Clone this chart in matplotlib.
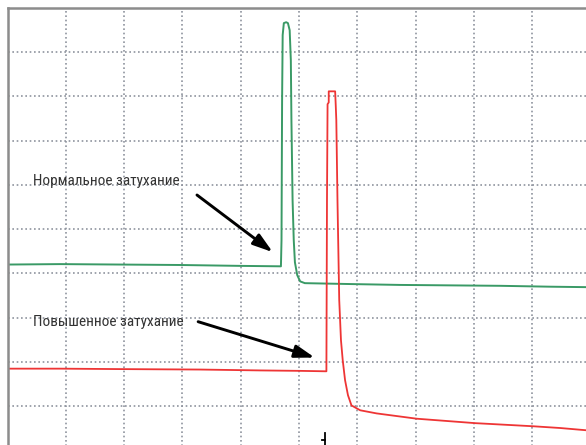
#!/usr/bin/env python
# Reflectogram-style trace: normal vs increased attenuation, scope grid 10x10.
import matplotlib
matplotlib.use("Agg")
import matplotlib.pyplot as plt

GREEN = "#3a9a66"; RED = "#ee3535"; GRID = "#8f949e"; FRAME = "#8c8c8c"; INK = "#333333"

# traces in screen divisions (x: 0..10, y: 0..10 from bottom)
normal_x = [0.01, 0.90, 1.93, 2.96, 3.99, 4.69, 4.70, 4.71, 4.72, 4.74, 4.78, 4.81,
            4.84, 4.85, 4.86, 4.87, 4.89, 4.91, 4.93, 4.97, 5.02, 5.10, 5.87, 6.73,
            7.59, 8.45, 9.31, 9.92]
normal_y = [4.20, 4.21, 4.20, 4.19, 4.17, 4.16, 4.75, 7.91, 9.38, 9.65, 9.67, 9.65,
            9.49, 9.15, 8.81, 7.46, 5.65, 4.75, 4.25, 3.96, 3.82, 3.78, 3.76, 3.74,
            3.73, 3.72, 3.70, 3.69]

high_x = [0.01, 0.90, 1.93, 3.30, 4.33, 5.02, 5.47, 5.48, 5.49, 5.51, 5.51, 5.62,
          5.63, 5.64, 5.66, 5.69, 5.72, 5.75, 5.79, 5.84, 5.90, 6.05, 6.33, 6.56,
          7.02, 8.02, 9.01, 9.48, 9.92]
high_y = [1.85, 1.85, 1.84, 1.83, 1.81, 1.80, 1.79, 5.65, 7.82, 7.86, 8.11, 8.11,
          7.80, 7.46, 5.65, 3.40, 2.49, 2.04, 1.59, 1.25, 1.02, 0.91, 0.84, 0.80,
          0.72, 0.62, 0.55, 0.51, 0.46]

labels = ["Нормальное затухание", "Повышенное затухание"]
label_pos = [(0.44, 5.99), (0.43, 2.81)]
arrow_tail = [(3.25, 5.77), (3.27, 2.91)]
arrow_tip = [(4.55, 4.48), (5.27, 2.10)]
cursor_x = 5.45

fig = plt.figure(figsize=(5.86, 4.45), dpi=100)
ax = fig.add_axes([7.5 / 586, -0.0126, 583 / 586, 443 / 445])
ax.set_xlim(0, 10); ax.set_ylim(0, 10)
ax.set_xticks(range(11)); ax.set_yticks(range(11))
ax.tick_params(length=0, labelbottom=False, labelleft=False)
ax.grid(True, color=GRID, lw=1.2, ls=(0, (1, 1.6)))
for s in ("right", "bottom"):
    ax.spines[s].set_visible(False)
for s in ("top", "left"):
    ax.spines[s].set_color(FRAME); ax.spines[s].set_linewidth(1.8)

ax.plot(normal_x, normal_y, color=GREEN, lw=1.4, solid_joinstyle="round")
ax.plot(high_x, high_y, color=RED, lw=1.3, solid_joinstyle="round")

for txt, (tx, ty), tail, tip in zip(labels, label_pos, arrow_tail, arrow_tip):
    ax.text(tx, ty, txt, ha="left", va="baseline", color=INK, fontsize=11,
            family=["Roboto Condensed", "Roboto", "DejaVu Sans"])
    ax.annotate("", xy=tip, xytext=tail,
                arrowprops=dict(arrowstyle="-|>,head_length=1.0,head_width=0.32",
                                mutation_scale=12, color="black", lw=2.1,
                                shrinkA=0, shrinkB=0))

# cursor tick at the bottom edge
ax.plot([cursor_x, cursor_x], [0.39, 0.0], color="black", lw=1.3)
ax.plot([cursor_x - 0.06, cursor_x], [0.235, 0.235], color="black", lw=1.3)

fig.savefig("out.png", dpi=100)
plt.close(fig)
